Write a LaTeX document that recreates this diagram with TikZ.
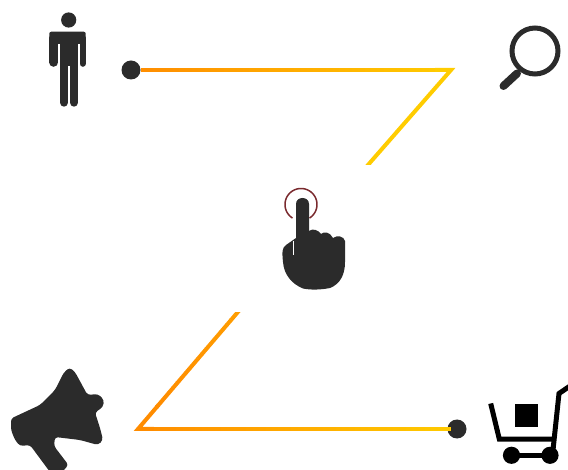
\documentclass[tikz,border=0pt]{standalone}
\usepackage{tikz}
\usetikzlibrary{calc}

\definecolor{icondark}{HTML}{2B2B2B}
\definecolor{lineorange}{HTML}{FF8C00}
\definecolor{lineyellow}{HTML}{FFCC00}
\definecolor{ringred}{HTML}{7A2A2E}

\begin{document}
\begin{tikzpicture}[
    x=1pt, y=-1pt,
    dot/.style={
        circle, fill=icondark, inner sep=0pt,
        minimum size=19pt
    },
    icon/.style={
        fill=icondark, draw=none
    },
    limb/.style={
        draw=icondark, line cap=round
    },
    cartline/.style={
        draw=black, line width=5pt
    },
    linepart/.style={
        line width=4pt
    }
]
\useasboundingbox (0,0) rectangle (568,470);

% Connector ends
\node[dot] (topdot) at (131,70) {};
\node[dot] (botdot) at (457,429) {};
\coordinate (topcorner) at (451,70);
\coordinate (topend) at (363.6,170);
\coordinate (botcorner) at (138,429);
\coordinate (botend) at (241.3,308);

% Top line
\foreach \t in {3,5,...,93} {
    \pgfmathsetmacro{\mixval}{\t}
    \draw[linepart, color=lineyellow!\mixval!lineorange]
        ($(topdot)!\t/100!(topcorner)$) -- ($(topdot)!\t/100+0.022!(topcorner)$);
}
\begin{scope}
\clip (0,0) rectangle (568,165);
\draw[linepart, color=lineyellow, miter limit=10]
    ($(topdot)!0.95!(topcorner)$) -- (topcorner) -- (topend);
\end{scope}

% Bottom line
\foreach \t in {4,6,...,96} {
    \pgfmathsetmacro{\mixval}{\t}
    \draw[linepart, color=lineyellow!\mixval!lineorange]
        ($(botcorner)!\t/100!(botdot)$) -- ($(botcorner)!\t/100+0.022!(botdot)$);
}
\draw[linepart, color=lineorange, miter limit=10]
    ($(botcorner)!0.05!(botdot)$) -- (botcorner) -- ($(botcorner)!0.2!(botend)$);
\begin{scope}
\clip (0,313) rectangle (568,470);
\foreach \t in {18,22,...,98} {
    \pgfmathsetmacro{\mixval}{(\t-18)*0.35}
    \draw[linepart, color=lineyellow!\mixval!lineorange]
        ($(botcorner)!\t/100!(botend)$) -- ($(botcorner)!\t/100+0.042!(botend)$);
}
\end{scope}

% Person
\fill[icon] (68.7,20) circle (7.6);
\fill[icon, rounded corners=2pt] (49.3,31.7) rectangle (85.7,44);
\fill[icon] (59.7,36) rectangle (78.4,66);
\draw[limb, line width=9pt] (53.8,38) -- (53.8,62.3);
\draw[limb, line width=6.2pt] (82.6,38) -- (82.6,63.7);
\draw[limb, line width=8.4pt] (64,62) -- (64,102.5);
\draw[limb, line width=8.4pt] (74,62) -- (74,102.5);
\fill[icon] (60,60) rectangle (78,66);
\draw[draw=white, line width=1.3pt] (59,44) -- (59,68);
\draw[draw=white, line width=1.3pt] (78.9,44) -- (78.9,68);

% Magnifier
\draw[draw=icondark, line width=5pt] (535,51) circle (23);
\draw[draw=icondark, line width=8pt, line cap=round] (503.5,86) -- (517,73.5);

% Ring and hand
\draw[color=ringred, line width=1.5pt] plot[domain=122:418, samples=60] ({301+16*cos(\x)},{204.5+16*sin(\x)});
\fill[icon] (296,204) .. controls (296,196) and (309,196) .. (309,204) -- (309,231)
    .. controls (313,228) and (318,230) .. (321,234)
    .. controls (324,231) and (330,232) .. (333,238)
    .. controls (337,235) and (344,236) .. (345,241)
    -- (345,262) .. controls (345,275) and (340,284) .. (330,288)
    .. controls (320,290) and (310,290) .. (303,288.5)
    .. controls (292,284) and (284,275) .. (283,262)
    .. controls (282,252) and (282,248) .. (286,245)
    -- (296,238) -- cycle;
\draw[draw=white, line width=0.7pt] (293.5,241) -- (293.5,255);

% Megaphone
\fill[icon, rounded corners=3pt] (11,418.5) -- (40,405) -- (55,390) -- (63.5,373) -- (69.5,367.5) -- (75,372)
    -- (87.5,395) -- (98,394) -- (104,400) -- (103,407) -- (95,412.5) -- (100,428) -- (103,440) -- (98,445)
    -- (80,440) -- (55,437) -- (54,446) -- (68.5,465) -- (62,472) -- (50,472) -- (30,445) -- (20,446)
    -- (15,440) -- (11,430) -- cycle;

% Cart
\fill[color=black] (515,404.3) rectangle (537.7,426.7);
\draw[cartline] (490.7,403.5) -- (499.3,439) -- (553,439);
\draw[cartline] (553,450) -- (559,393.5) -- (570,386);
\draw[cartline] (511.5,455.3) -- (550,455.3);
\fill[color=black] (511.5,455.3) circle (8.6);
\fill[color=black] (550,455.3) circle (8.6);

\end{tikzpicture}
\end{document}
